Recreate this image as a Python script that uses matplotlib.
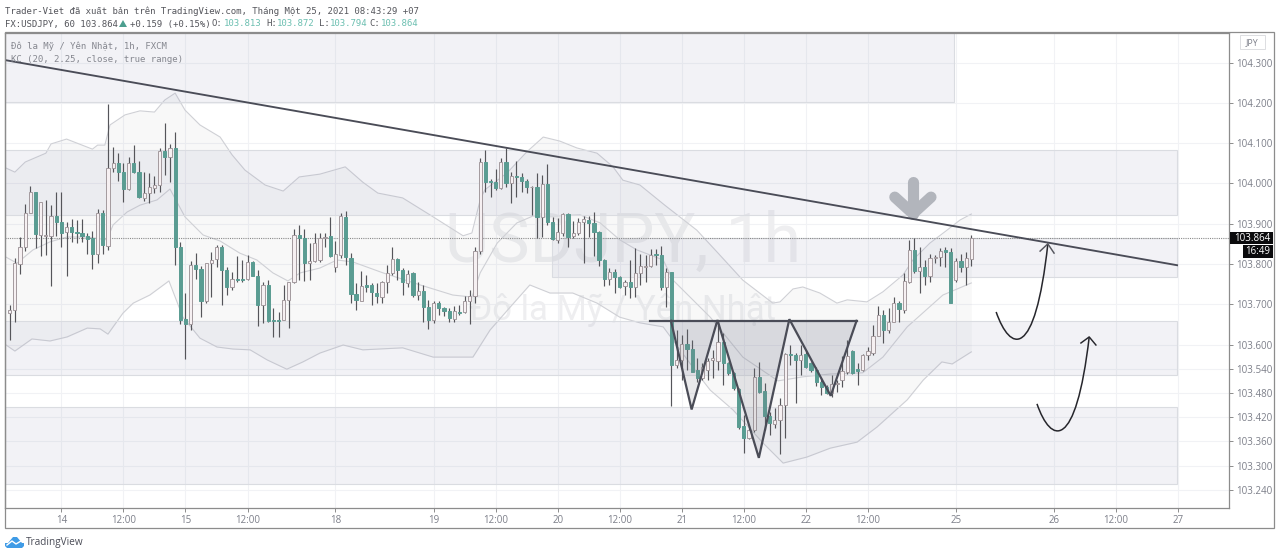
import numpy as np
import matplotlib
matplotlib.use('Agg')
import matplotlib.pyplot as plt
from matplotlib.patches import Rectangle, Polygon, PathPatch
from matplotlib.path import Path

# ---------------------------------------------------------
# Data: USDJPY 1h candles
# ---------------------------------------------------------
opens = [
    103.679, 103.686, 103.800, 103.841, 103.926, 103.979, 103.872, 103.869, 103.869, 103.919,
    103.905, 103.880, 103.893, 103.880, 103.876, 103.869, 103.864, 103.826, 103.926, 103.845,
    104.037, 104.051, 104.029, 103.985, 104.051, 104.029, 103.963, 103.975, 103.988, 103.996,
    104.081, 104.065, 104.089, 103.841, 103.663, 103.651, 103.798, 103.787, 103.707, 103.802,
    103.812, 103.841, 103.785, 103.742, 103.763, 103.764, 103.762, 103.805, 103.770, 103.698,
    103.748, 103.661, 103.661, 103.661, 103.711, 103.756, 103.872, 103.864, 103.802, 103.808,
    103.810, 103.864, 103.869, 103.792, 103.822, 103.916, 103.814, 103.726, 103.709, 103.748,
    103.748, 103.729, 103.719, 103.756, 103.777, 103.812, 103.785, 103.754, 103.777, 103.723,
    103.734, 103.694, 103.661, 103.704, 103.691, 103.684, 103.663, 103.682, 103.682, 103.707,
    103.721, 103.833, 104.052, 104.007, 104.004, 103.988, 104.054, 104.000, 104.018, 104.015,
    104.007, 103.990, 103.990, 103.917, 103.998, 103.903, 103.860, 103.878, 103.924, 103.869,
    103.878, 103.903, 103.909, 103.901, 103.880, 103.810, 103.764, 103.781, 103.767, 103.745,
    103.756, 103.742, 103.777, 103.792, 103.795, 103.825, 103.822, 103.744, 103.779, 103.549,
    103.562, 103.602, 103.588, 103.537, 103.516, 103.537, 103.562, 103.560, 103.607, 103.554,
    103.529, 103.489, 103.398, 103.368, 103.388, 103.520, 103.486, 103.423, 103.403, 103.413,
    103.450, 103.577, 103.574, 103.563, 103.577, 103.554, 103.537, 103.508, 103.496, 103.479,
    103.502, 103.512, 103.533, 103.583, 103.539, 103.537, 103.574, 103.578, 103.621, 103.674,
    103.636, 103.657, 103.704, 103.686, 103.756, 103.835, 103.783, 103.793, 103.769, 103.814,
    103.818, 103.835, 103.831, 103.760, 103.808, 103.792, 103.813]
highs = [
    103.698, 103.814, 103.866, 103.949, 103.994, 103.979, 103.955, 103.959, 103.946, 103.979,
    103.979, 103.905, 103.911, 103.909, 103.911, 103.878, 103.883, 103.936, 103.934, 104.197,
    104.091, 104.075, 104.050, 104.066, 104.095, 104.056, 104.029, 104.025, 104.018, 104.087,
    104.149, 104.099, 104.128, 103.855, 103.729, 103.808, 103.828, 103.795, 103.803, 103.831,
    103.847, 103.847, 103.793, 103.781, 103.820, 103.810, 103.822, 103.808, 103.785, 103.756,
    103.760, 103.690, 103.682, 103.748, 103.756, 103.888, 103.897, 103.888, 103.851, 103.876,
    103.876, 103.876, 103.916, 103.858, 103.926, 103.932, 103.828, 103.752, 103.783, 103.773,
    103.752, 103.754, 103.759, 103.798, 103.843, 103.814, 103.789, 103.785, 103.781, 103.756,
    103.748, 103.711, 103.707, 103.707, 103.694, 103.690, 103.696, 103.698, 103.721, 103.735,
    103.841, 104.062, 104.083, 104.010, 104.035, 104.062, 104.087, 104.029, 104.056, 104.025,
    104.010, 103.994, 104.025, 104.021, 104.048, 103.916, 103.913, 103.926, 103.926, 103.907,
    103.913, 103.919, 103.919, 103.930, 103.883, 103.812, 103.789, 103.787, 103.770, 103.760,
    103.810, 103.839, 103.825, 103.822, 103.836, 103.836, 103.845, 103.789, 103.781, 103.636,
    103.624, 103.638, 103.611, 103.566, 103.554, 103.566, 103.587, 103.657, 103.628, 103.558,
    103.533, 103.492, 103.425, 103.398, 103.541, 103.558, 103.504, 103.434, 103.442, 103.467,
    103.580, 103.599, 103.578, 103.599, 103.587, 103.558, 103.545, 103.516, 103.500, 103.525,
    103.512, 103.572, 103.611, 103.587, 103.554, 103.577, 103.595, 103.649, 103.696, 103.686,
    103.690, 103.719, 103.709, 103.777, 103.860, 103.864, 103.843, 103.810, 103.826, 103.822,
    103.839, 103.843, 103.839, 103.814, 103.825, 103.831, 103.872]
lows = [
    103.611, 103.657, 103.775, 103.833, 103.926, 103.839, 103.820, 103.822, 103.745, 103.869,
    103.843, 103.770, 103.855, 103.851, 103.855, 103.826, 103.787, 103.802, 103.825, 103.835,
    104.029, 104.007, 103.955, 103.984, 104.025, 103.963, 103.957, 103.952, 103.977, 103.979,
    104.021, 104.004, 103.798, 103.650, 103.564, 103.636, 103.764, 103.668, 103.704, 103.719,
    103.792, 103.698, 103.723, 103.735, 103.756, 103.756, 103.760, 103.769, 103.645, 103.653,
    103.657, 103.618, 103.620, 103.661, 103.640, 103.752, 103.760, 103.759, 103.760, 103.806,
    103.806, 103.843, 103.818, 103.781, 103.814, 103.798, 103.704, 103.686, 103.707, 103.731,
    103.698, 103.704, 103.704, 103.727, 103.773, 103.760, 103.723, 103.744, 103.719, 103.711,
    103.657, 103.638, 103.654, 103.673, 103.671, 103.657, 103.657, 103.673, 103.679, 103.651,
    103.704, 103.826, 103.979, 103.967, 103.984, 103.985, 103.990, 103.952, 103.967, 103.979,
    103.975, 103.922, 103.864, 103.868, 103.897, 103.860, 103.853, 103.869, 103.841, 103.864,
    103.872, 103.802, 103.866, 103.820, 103.795, 103.745, 103.748, 103.729, 103.740, 103.723,
    103.715, 103.719, 103.748, 103.756, 103.792, 103.798, 103.736, 103.694, 103.448, 103.541,
    103.512, 103.537, 103.533, 103.508, 103.512, 103.512, 103.516, 103.537, 103.500, 103.525,
    103.487, 103.390, 103.332, 103.365, 103.384, 103.479, 103.388, 103.376, 103.392, 103.329,
    103.368, 103.549, 103.454, 103.525, 103.541, 103.533, 103.497, 103.475, 103.478, 103.471,
    103.483, 103.494, 103.527, 103.527, 103.500, 103.535, 103.562, 103.574, 103.621, 103.605,
    103.628, 103.657, 103.657, 103.678, 103.754, 103.777, 103.729, 103.748, 103.756, 103.802,
    103.795, 103.793, 103.704, 103.756, 103.779, 103.748, 103.794]
closes = [
    103.686, 103.802, 103.841, 103.927, 103.979, 103.874, 103.955, 103.872, 103.919, 103.905,
    103.878, 103.893, 103.880, 103.876, 103.869, 103.861, 103.826, 103.926, 103.847, 104.037,
    104.051, 104.029, 103.985, 104.051, 104.029, 103.967, 103.975, 103.990, 103.996, 104.081,
    104.066, 104.089, 103.841, 103.661, 103.651, 103.798, 103.787, 103.709, 103.802, 103.810,
    103.843, 103.785, 103.742, 103.762, 103.760, 103.760, 103.805, 103.770, 103.698, 103.748,
    103.659, 103.659, 103.659, 103.711, 103.756, 103.872, 103.864, 103.802, 103.808, 103.851,
    103.864, 103.866, 103.820, 103.825, 103.919, 103.817, 103.726, 103.711, 103.745, 103.744,
    103.731, 103.721, 103.756, 103.777, 103.812, 103.785, 103.755, 103.775, 103.723, 103.734,
    103.694, 103.661, 103.704, 103.692, 103.684, 103.665, 103.684, 103.679, 103.707, 103.721,
    103.833, 104.052, 104.004, 104.004, 103.988, 104.054, 104.000, 104.018, 104.015, 104.007,
    103.992, 103.992, 103.917, 103.998, 103.905, 103.861, 103.880, 103.924, 103.868, 103.878,
    103.903, 103.911, 103.901, 103.880, 103.810, 103.764, 103.781, 103.767, 103.744, 103.756,
    103.742, 103.777, 103.795, 103.795, 103.822, 103.822, 103.744, 103.781, 103.549, 103.562,
    103.602, 103.588, 103.533, 103.516, 103.544, 103.560, 103.566, 103.607, 103.554, 103.529,
    103.492, 103.396, 103.368, 103.388, 103.520, 103.483, 103.423, 103.406, 103.413, 103.450,
    103.577, 103.574, 103.563, 103.574, 103.545, 103.537, 103.508, 103.494, 103.479, 103.502,
    103.504, 103.535, 103.572, 103.529, 103.535, 103.574, 103.585, 103.621, 103.674, 103.636,
    103.657, 103.704, 103.688, 103.759, 103.835, 103.783, 103.793, 103.769, 103.814, 103.818,
    103.833, 103.831, 103.704, 103.808, 103.793, 103.814, 103.864]

# Keltner channel, read at its bends (bar number, price)
upper_bar = [-0.7, 1, 3, 7, 8, 11, 13, 16, 17, 18.4, 19.4, 22.3, 25.2, 28, 30, 32, 33.9, 36.8, 40.7, 43,
             45.5, 49.4, 52.9, 56, 60, 64.9, 68.3, 71.2, 76, 81.9, 87.7, 89.4, 91, 91.9, 96.2, 100, 103.2,
             106.4, 109.7, 113.6, 116.7, 118.6, 121.9, 126.7, 132.9, 136.8, 141.8, 147.6, 149, 151.5,
             153.4, 156.7, 160, 162, 165.8, 168.9, 172.8, 174.7, 178, 181.3, 183.8, 186]
upper_price = [104.038, 104.028, 104.053, 104.075, 104.098, 104.110, 104.100, 104.085, 104.095, 104.095,
               104.145, 104.170, 104.180, 104.177, 104.207, 104.224, 104.182, 104.145, 104.115, 104.071,
               104.033, 103.996, 103.981, 104.016, 104.023, 104.041, 104.003, 103.976, 103.964, 103.917,
               103.870, 103.877, 103.959, 103.984, 104.026, 104.078, 104.115, 104.105, 104.088, 104.075,
               104.041, 104.008, 103.996, 103.946, 103.884, 103.830, 103.760, 103.703, 103.706, 103.738,
               103.743, 103.728, 103.703, 103.711, 103.706, 103.731, 103.773, 103.810, 103.852, 103.884,
               103.909, 103.924]
middle_bar = [-0.7, 1.4, 4.5, 7.8, 11.1, 15, 18.8, 20, 22.7, 25.2, 28.5, 31, 33.9, 37.4, 40.7, 44.5, 47.8,
              50.9, 53.8, 56.2, 60, 63.3, 66.4, 72.2, 79.4, 85.7, 89.4, 91, 94.3, 98.1, 101.2, 105.1,
              110.3, 114.2, 118, 121.3, 126.4, 128.3, 135.5, 141.8, 148.6, 153.4, 158.7, 165, 168.9,
              173.6, 180.5, 186]
middle_price = [103.817, 103.802, 103.835, 103.855, 103.867, 103.867, 103.860, 103.897, 103.929, 103.946,
                103.959, 103.986, 103.917, 103.872, 103.857, 103.827, 103.810, 103.778, 103.758, 103.778,
                103.790, 103.810, 103.805, 103.778, 103.748, 103.723, 103.718, 103.778, 103.852, 103.902,
                103.919, 103.919, 103.922, 103.902, 103.860, 103.835, 103.810, 103.760, 103.668, 103.569,
                103.510, 103.520, 103.527, 103.530, 103.569, 103.644, 103.723, 103.753]
lower_bar = [-0.7, 1, 4.3, 7.8, 11.1, 15, 17.5, 19, 21.9, 23.9, 27.1, 30.8, 33.5, 36.8, 40.1, 43.2, 46.5,
             49.8, 53.6, 56.7, 60, 64.5, 68.3, 76, 81.9, 89.6, 92.9, 96.8, 100.6, 104.5, 108.9, 113.6,
             118, 121.9, 126.4, 133.5, 135.5, 139.9, 145.7, 149.6, 154.2, 158.7, 163.9, 167.8, 173.6,
             176.7, 180.3, 182.3, 186]
lower_price = [103.599, 103.584, 103.614, 103.609, 103.619, 103.641, 103.639, 103.626, 103.678, 103.703,
               103.723, 103.758, 103.668, 103.616, 103.594, 103.589, 103.587, 103.562, 103.539, 103.557,
               103.579, 103.599, 103.587, 103.592, 103.569, 103.569, 103.636, 103.693, 103.748, 103.728,
               103.728, 103.703, 103.668, 103.654, 103.644, 103.520, 103.487, 103.438, 103.356, 103.306,
               103.321, 103.343, 103.358, 103.396, 103.463, 103.512, 103.557, 103.552, 103.582]

# Drawn zones
zone_left = [-0.91, -0.91, 104.9, -0.91, -0.91]
zone_right = [182.65, 225.8, 225.8, 225.8, 225.8]
zone_top = [104.38, 104.083, 103.864, 103.658, 103.445]
zone_bottom = [104.202, 103.922, 103.768, 103.524, 103.254]

# Drawn lines and pattern
trend_bar = [-0.9, 225.8]
trend_price = [104.306, 103.797]
neck_bar = [123.9, 163.8]
neck_price = [103.659, 103.659]
pattern_bar = [127.9, 131.9, 136.9, 144.9, 150.8, 158.8, 163.8]
pattern_price = [103.659, 103.439, 103.661, 103.319, 103.663, 103.473, 103.659]

# Curved arrows, start / two handles / end
arrow1_bar = [190.8, 193.5, 198.3, 200.8]
arrow1_price = [103.681, 103.582, 103.557, 103.850]
head1_bar = [199.3, 200.8, 202]
head1_price = [103.832, 103.850, 103.827]
arrow2_bar = [198.7, 201.4, 206.2, 208.8]
arrow2_price = [103.453, 103.353, 103.333, 103.619]
head2_bar = [207.2, 208.8, 210.1]
head2_price = [103.604, 103.619, 103.599]

# Axis labels
y_ticks = [104.3, 104.2, 104.1, 104.0, 103.9, 103.8, 103.7, 103.6, 103.54, 103.48, 103.42, 103.36, 103.30, 103.24]
x_ticks = [10, 22, 34, 46, 63, 82, 94, 106, 118, 130, 142, 154, 166, 183, 202, 214, 226]
x_labels = ['14', '12:00', '15', '12:00', '18', '19', '12:00', '20', '12:00', '21', '12:00', '22', '12:00',
            '25', '26', '12:00', '27']
last_price = 103.864

TEAL = '#5a9c92'
GREY_TXT = '#7c7f89'
MONO = ['DejaVu Sans Mono', 'Liberation Mono', 'Noto Sans']
W, H = 1280, 556


def fx(x):
    return x / W


def fy(y):
    return 1 - y / H


# ---------------------------------------------------------
# Figure and main pane
# ---------------------------------------------------------
fig = plt.figure(figsize=(W / 100, H / 100), dpi=100)
ax = fig.add_axes([fx(5), fy(507.5), fx(1229 - 5), (507.5 - 33) / H])
ax.set_xlim(-0.91, 235.84)
ax.set_ylim(103.1958, 104.3732)

ax.yaxis.tick_right()
ax.set_yticks(y_ticks)
ax.set_yticklabels(['%.3f' % v for v in y_ticks], fontsize=7, color=GREY_TXT, family='Open Sans')
ax.set_xticks(x_ticks)
ax.set_xticklabels(x_labels, fontsize=7, color=GREY_TXT, family='Open Sans')
ax.tick_params(axis='both', length=3, width=0.7, color='#8c8c8c', pad=2.5)
ax.grid(True, color='#f1f2f5', lw=0.8, zorder=0)
ax.set_axisbelow(True)
for s in ax.spines.values():
    s.set_color('#8c8c8c')
    s.set_linewidth(0.9)

# watermark
ax.text(0.5045, 0.517, 'USDJPY, 1h', transform=ax.transAxes, ha='center', va='baseline',
        fontsize=49, color='#eeeef0', family='Roboto', zorder=1)
ax.text(0.5045, 0.395, 'Đô la Mỹ / Yên Nhật', transform=ax.transAxes, ha='center', va='baseline',
        fontsize=25, color='#eeeef0', family='Roboto', zorder=1)

# channel
grid_bar = np.array(sorted(set(upper_bar) | set(lower_bar)))
ax.fill_between(grid_bar, np.interp(grid_bar, lower_bar, lower_price), np.interp(grid_bar, upper_bar, upper_price),
                color='#787b86', alpha=0.05, lw=0, zorder=1.5)
ax.plot(upper_bar, upper_price, color='#cfd0d5', lw=0.8, zorder=1.6)
ax.plot(middle_bar, middle_price, color='#cfd0d5', lw=0.8, zorder=1.6)
ax.plot(lower_bar, lower_price, color='#cfd0d5', lw=0.8, zorder=1.6)

# zones
for l, r, t, b in zip(zone_left, zone_right, zone_top, zone_bottom):
    ax.add_patch(Rectangle((l, b), r - l, t - b, facecolor='#9598b8', alpha=0.12, lw=0, zorder=2))
    ax.add_patch(Rectangle((l, b), r - l, t - b, fill=False, edgecolor='#dadce1', lw=0.8, zorder=2.1))

# current price line
ax.plot([-0.91, 235.84], [last_price, last_price], color='#8a8a8a', lw=0.8, ls=(0, (1, 1)), zorder=2.5)

# ---------------------------------------------------------
# Candles
# ---------------------------------------------------------
o = np.array(opens)
h = np.array(highs)
l = np.array(lows)
c = np.array(closes)
bars = np.arange(len(o))
up = c >= o
ax.vlines(bars, l, h, color='#55555a', lw=0.85, zorder=3)
ax.bar(bars[up], np.maximum(c[up] - o[up], 0.002), bottom=o[up], width=0.62, facecolor='#f6f0f2',
       edgecolor='#a39a9e', lw=0.7, zorder=4)
ax.bar(bars[~up], np.maximum(o[~up] - c[~up], 0.002), bottom=c[~up], width=0.62, facecolor=TEAL,
       edgecolor=TEAL, lw=0.7, zorder=4)

# ---------------------------------------------------------
# Drawings
# ---------------------------------------------------------
ax.plot(trend_bar, trend_price, color='#4a4c57', lw=1.35, zorder=6)
ax.plot(neck_bar, neck_price, color='#4a4c57', lw=1.6, zorder=6)
ax.add_patch(Polygon(np.column_stack([pattern_bar, pattern_price]), closed=True, facecolor='#787b86',
                     alpha=0.16, lw=0, zorder=5))
ax.plot(pattern_bar, pattern_price, color='#4a4c57', lw=1.6, zorder=6, solid_joinstyle='miter')

curve_codes = [Path.MOVETO, Path.CURVE4, Path.CURVE4, Path.CURVE4]
for xs, ys in [(arrow1_bar, arrow1_price), (arrow2_bar, arrow2_price)]:
    ax.add_patch(PathPatch(Path(np.column_stack([xs, ys]), curve_codes), fill=False, edgecolor='#26262c',
                           lw=1.1, zorder=6))
ax.plot(head1_bar, head1_price, color='#55565e', lw=1.05, zorder=6)
ax.plot(head2_bar, head2_price, color='#26262c', lw=1.05, zorder=6)

# grey down arrow
ax.plot([174.7, 174.7], [104.003, 103.925], color='#b2b5bc', lw=8, solid_capstyle='round', zorder=5)
ax.plot([171.2, 174.7, 178.2], [103.966, 103.925, 103.966], color='#b2b5bc', lw=8,
        solid_capstyle='round', solid_joinstyle='round', zorder=5)

# ---------------------------------------------------------
# Texts and frame outside of the pane
# ---------------------------------------------------------
fig.add_artist(Rectangle((fx(5), fy(528)), fx(1274 - 5), (528 - 32) / H, fill=False, edgecolor='#8c8c8c',
                         lw=0.9, transform=fig.transFigure))


def label(x, y, txt, color='#55565c', size=6.5, family=MONO, ha='left', **kw):
    fig.text(fx(x), fy(y), txt, color=color, fontsize=size, family=family, ha=ha, va='center', **kw)


label(5, 11, 'Trader-Viet đã xuất bản trên TradingView.com, Tháng Một 25, 2021 08:43:29 +07')
label(5, 24, 'FX:USDJPY, 60 103.864')
label(130, 24, '+0.159 (+0.15%)')
fig.add_artist(Polygon([(fx(119), fy(27)), (fx(127), fy(27)), (fx(123), fy(20))], closed=True,
                       facecolor='#4c9f8f', lw=0, transform=fig.transFigure))
for x0, name, x1, val in [(211, 'O:', 224, '103.813'), (266, 'H:', 277, '103.872'),
                          (319, 'L:', 330, '103.794'), (369, 'C:', 381, '103.864')]:
    label(x0, 24, name)
    label(x1, 24, val, color='#6bbfb0')
label(11, 46, 'Đô la Mỹ / Yên Nhật, 1h, FXCM', color='#85878f', zorder=10)
label(11, 59, 'KC (20, 2.25, close, true range)', color='#85878f', zorder=10)

# JPY box
fig.add_artist(Rectangle((fx(1240), fy(49)), fx(25), 14 / H, facecolor='white', edgecolor='#dcdde1', lw=0.7,
                         transform=fig.transFigure))
label(1252.5, 43, 'JPY', color=GREY_TXT, size=6.3, family='Open Sans', ha='center')

# price tag
fig.add_artist(Rectangle((fx(1230), fy(244)), fx(43), 12 / H, facecolor='#0b0b0d', lw=0,
                         transform=fig.transFigure, zorder=8))
fig.add_artist(Rectangle((fx(1243), fy(258)), fx(30), 13 / H, facecolor='#0b0b0d', lw=0,
                         transform=fig.transFigure, zorder=8))
label(1252.5, 238.3, '%.3f' % last_price, color='white', size=7, family='Open Sans', ha='center', zorder=9)
label(1258, 251.5, '16:49', color='white', size=7, family='Open Sans', ha='center', zorder=9)

# TradingView logo
logo = [(5, 546), (5, 543), (8, 543), (13, 537), (17, 537), (22, 543), (24, 543), (24, 546), (22, 548), (7, 548)]
fig.add_artist(Polygon([(fx(x), fy(y)) for x, y in logo], closed=True, facecolor='#3f9be6', lw=0,
                       transform=fig.transFigure))
fig.add_artist(plt.Line2D([fx(7), fx(12), fx(16), fx(21)], [fy(545), fy(541), fy(544), fy(541)], color='white',
                          lw=1, transform=fig.transFigure))
label(26, 542, 'TradingView', color='#4a4c57', size=7.2, family='Open Sans')

fig.savefig('out.png', dpi=100)
